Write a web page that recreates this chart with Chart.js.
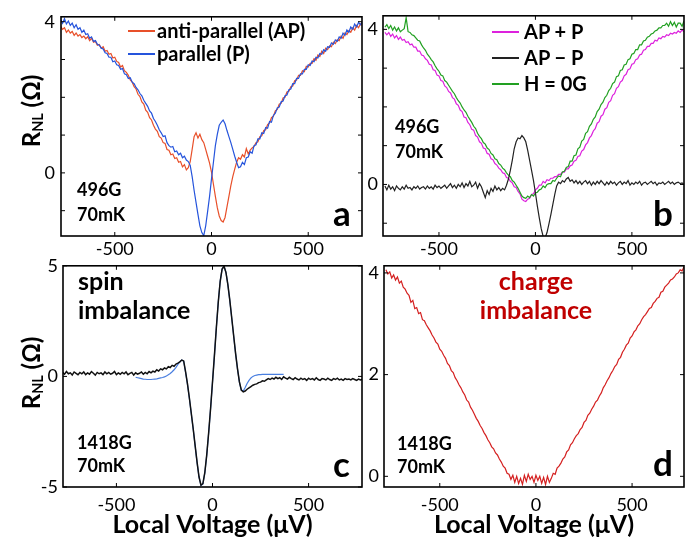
<!DOCTYPE html>
<html>
<head>
<meta charset="utf-8">
<script src="https://cdn.jsdelivr.net/npm/chart.js@4"></script>
<style>
  html, body { margin: 0; padding: 0; background: #fff; }
  #fig { position: relative; width: 692px; height: 547px; overflow: hidden; font-family: Lato, sans-serif; color: #000; }
  .box { position: absolute; }
  .txt { position: absolute; font-weight: bold; white-space: nowrap; line-height: 1; }
  .note { font-size: 18px; }
  .leg { font-size: 20px; }
  .letter { font-size: 35px; }
  .big { font-size: 25px; }
  .swatch { position: absolute; height: 1.5px; }
  .ytitle { position: absolute; font-weight: bold; font-size: 24px; line-height: 1; white-space: nowrap;
            transform: translate(-50%, -50%) rotate(-90deg); }
  .ytitle sub { font-size: 0.6em; vertical-align: baseline; position: relative; top: 0.22em; }
</style>
</head>
<body>
<div id="fig">
  <div class="box" style="left:0;top:0;width:370px;height:262px"><canvas id="chart-a"></canvas></div>
  <div class="box" style="left:360px;top:0;width:332px;height:262px"><canvas id="chart-b"></canvas></div>
  <div class="box" style="left:0;top:250px;width:370px;height:297px"><canvas id="chart-c"></canvas></div>
  <div class="box" style="left:360px;top:250px;width:332px;height:297px"><canvas id="chart-d"></canvas></div>

  <div class="ytitle" style="left:31px;top:111px">R<sub>NL</sub> (Ω)</div>
  <div class="ytitle" style="left:31px;top:373px">R<sub>NL</sub> (Ω)</div>

  <!-- panel a -->
  <div class="swatch" style="left:128px;top:30px;width:27px;background:#e8502a"></div>
  <div class="txt leg" style="left:157px;top:20px">anti-parallel (AP)</div>
  <div class="swatch" style="left:128px;top:53px;width:27px;background:#2554dc"></div>
  <div class="txt leg" style="left:157px;top:43px">parallel (P)</div>
  <div class="txt note" style="left:77px;top:180px">496G</div>
  <div class="txt note" style="left:77px;top:205px">70mK</div>
  <div class="txt letter" style="left:333px;top:195px">a</div>

  <!-- panel b -->
  <div class="swatch" style="left:492px;top:31px;width:27px;background:#dd22dd"></div>
  <div class="txt leg" style="left:524px;top:21px">AP + P</div>
  <div class="swatch" style="left:492px;top:57px;width:27px;background:#222"></div>
  <div class="txt leg" style="left:524px;top:47px">AP − P</div>
  <div class="swatch" style="left:492px;top:83px;width:27px;background:#22a022"></div>
  <div class="txt leg" style="left:524px;top:73px">H = 0G</div>
  <div class="txt note" style="left:395px;top:117px">496G</div>
  <div class="txt note" style="left:395px;top:142px">70mK</div>
  <div class="txt letter" style="left:653px;top:195px">b</div>

  <!-- panel c -->
  <div class="txt big" style="left:78px;top:268px">spin</div>
  <div class="txt big" style="left:78px;top:297px">imbalance</div>
  <div class="txt note" style="left:77px;top:433px">1418G</div>
  <div class="txt note" style="left:77px;top:456px">70mK</div>
  <div class="txt letter" style="left:333px;top:446px">c</div>

  <!-- panel d -->
  <div class="txt big" style="left:436px;top:268px;width:200px;text-align:center;color:#c00000">charge</div>
  <div class="txt big" style="left:436px;top:297px;width:200px;text-align:center;color:#c00000">imbalance</div>
  <div class="txt note" style="left:397px;top:434px">1418G</div>
  <div class="txt note" style="left:397px;top:457px">70mK</div>
  <div class="txt letter" style="left:653px;top:445px">d</div>
</div>

<script>
// local voltage grid (µV), shared by all the measured traces
const voltage = [
  -780,-770,-760,-750,-740,-730,-720,-710,-700,-690,
  -680,-670,-660,-650,-640,-630,-620,-610,-600,-590,
  -580,-570,-560,-550,-540,-530,-520,-510,-500,-490,
  -480,-470,-460,-450,-440,-430,-420,-410,-400,-390,
  -380,-370,-360,-350,-340,-330,-320,-310,-300,-290,
  -280,-270,-260,-250,-240,-230,-220,-210,-200,-190,
  -180,-170,-160,-150,-140,-130,-120,-110,-100,-90,
  -80,-70,-60,-50,-40,-30,-20,-10,0,10,
  20,30,40,50,60,70,80,90,100,110,
  120,130,140,150,160,170,180,190,200,210,
  220,230,240,250,260,270,280,290,300,310,
  320,330,340,350,360,370,380,390,400,410,
  420,430,440,450,460,470,480,490,500,510,
  520,530,540,550,560,570,580,590,600,610,
  620,630,640,650,660,670,680,690,700,710,
  720,730,740,750,760,770,780
];

// tick positions
const voltageTicks = [-500, 0, 500];
const ticksAB = [-1, 0, 1, 2, 3, 4];
const labelsAB = [0, 4];
const ticksC = [-5, 0, 5];
const ticksD = [0, 2, 4];

// panel a: 496G, 70mK
const antiParallel = [
  3.88, 3.80, 3.84, 3.72, 3.78, 3.70, 3.74, 3.64, 3.70, 3.62,
  3.66, 3.58, 3.62, 3.55, 3.60, 3.50, 3.56, 3.46, 3.48, 3.38,
  3.40, 3.30, 3.34, 3.22, 3.24, 3.14, 3.16, 3.04, 3.06, 2.95,
  2.92, 2.80, 2.84, 2.70, 2.66, 2.58, 2.46, 2.40, 2.28, 2.22,
  2.08, 2.02, 1.88, 1.82, 1.66, 1.60, 1.46, 1.40, 1.26, 1.16,
  1.10, 0.96, 0.92, 0.80, 0.78, 0.62, 0.60, 0.48, 0.50, 0.38,
  0.40, 0.28, 0.30, 0.16, 0.22, 0.08, 0.14, 0.30, 0.62, 0.96,
  1.06, 0.92, 1.02, 0.88, 0.80, 0.62, 0.44, 0.26, 0.02, -0.30,
  -0.62, -0.92, -1.14, -1.26, -1.30, -1.18, -0.90, -0.62, -0.34, -0.10,
  0.10, 0.28, 0.40, 0.36, 0.48, 0.42, 0.64, 0.50, 0.60, 0.66,
  0.70, 0.80, 0.82, 0.96, 0.98, 1.12, 1.14, 1.28, 1.32, 1.46,
  1.50, 1.64, 1.68, 1.82, 1.84, 1.98, 2.00, 2.14, 2.16, 2.28,
  2.30, 2.44, 2.46, 2.58, 2.58, 2.70, 2.68, 2.82, 2.80, 2.90,
  2.90, 3.02, 2.98, 3.12, 3.08, 3.22, 3.16, 3.30, 3.26, 3.36,
  3.34, 3.46, 3.42, 3.52, 3.50, 3.62, 3.56, 3.70, 3.66, 3.76,
  3.72, 3.84, 3.78, 3.90, 3.84, 3.94, 3.90
];
const parallel = [
  4.06, 3.96, 4.08, 3.94, 4.02, 3.90, 3.96, 3.84, 3.92, 3.80,
  3.84, 3.72, 3.78, 3.66, 3.68, 3.56, 3.60, 3.48, 3.50, 3.40,
  3.38, 3.30, 3.28, 3.18, 3.16, 3.06, 3.06, 2.94, 2.96, 2.86,
  2.84, 2.74, 2.76, 2.62, 2.60, 2.50, 2.52, 2.40, 2.36, 2.26,
  2.20, 2.10, 2.04, 1.92, 1.84, 1.76, 1.64, 1.58, 1.44, 1.36,
  1.26, 1.14, 1.06, 0.96, 0.98, 0.80, 0.72, 0.68, 0.70, 0.56,
  0.58, 0.48, 0.52, 0.40, 0.44, 0.34, 0.30, 0.20, -0.10, -0.46,
  -0.78, -1.10, -1.40, -1.58, -1.66, -1.40, -1.02, -0.62, -0.16, 0.28,
  0.72, 1.02, 1.26, 1.34, 1.40, 1.30, 1.12, 0.96, 0.80, 0.62,
  0.44, 0.28, 0.14, 0.16, 0.28, 0.22, 0.40, 0.42, 0.56, 0.52,
  0.72, 0.74, 0.90, 0.90, 1.06, 1.04, 1.20, 1.18, 1.36, 1.34,
  1.52, 1.58, 1.72, 1.74, 1.88, 1.90, 2.04, 2.06, 2.20, 2.22,
  2.36, 2.36, 2.50, 2.50, 2.62, 2.62, 2.74, 2.74, 2.86, 2.84,
  2.96, 2.94, 3.06, 3.04, 3.16, 3.14, 3.26, 3.22, 3.34, 3.32,
  3.44, 3.40, 3.52, 3.48, 3.60, 3.56, 3.70, 3.64, 3.78, 3.72,
  3.86, 3.80, 3.94, 3.86, 3.98, 3.92, 4.00
];

// panel b: sum, difference and zero-field trace
const apPlusP = [
  3.92, 3.86, 3.92, 3.82, 3.88, 3.78, 3.84, 3.74, 3.80, 3.72,
  3.74, 3.66, 3.68, 3.60, 3.62, 3.54, 3.54, 3.44, 3.44, 3.34,
  3.32, 3.24, 3.20, 3.10, 3.08, 2.96, 2.94, 2.82, 2.80, 2.68,
  2.66, 2.54, 2.50, 2.40, 2.36, 2.24, 2.20, 2.08, 2.04, 1.92,
  1.88, 1.74, 1.72, 1.60, 1.54, 1.42, 1.40, 1.26, 1.22, 1.10,
  1.06, 0.94, 0.92, 0.80, 0.78, 0.66, 0.64, 0.54, 0.50, 0.42,
  0.38, 0.30, 0.28, 0.18, 0.16, 0.08, 0.04, -0.06, -0.08, -0.18,
  -0.24, -0.38, -0.42, -0.44, -0.38, -0.36, -0.26, -0.24, -0.14, -0.10,
  -0.02, -0.02, 0.08, 0.04, 0.12, 0.10, 0.16, 0.16, 0.20, 0.20,
  0.26, 0.26, 0.32, 0.32, 0.40, 0.40, 0.48, 0.50, 0.60, 0.62,
  0.72, 0.74, 0.86, 0.90, 1.02, 1.08, 1.20, 1.26, 1.38, 1.44,
  1.58, 1.62, 1.76, 1.80, 1.94, 1.98, 2.12, 2.16, 2.30, 2.34,
  2.48, 2.52, 2.64, 2.68, 2.80, 2.84, 2.96, 2.98, 3.10, 3.12,
  3.22, 3.24, 3.34, 3.36, 3.46, 3.48, 3.56, 3.56, 3.64, 3.64,
  3.72, 3.70, 3.78, 3.76, 3.82, 3.80, 3.86, 3.84, 3.90, 3.88,
  3.92, 3.90, 3.96, 3.92, 3.98, 3.94, 3.98
];
const apMinusP = [
  -0.04, -0.14, -0.02, -0.12, -0.06, -0.16, -0.04, -0.10, -0.14, -0.06,
  -0.12, -0.02, -0.10, -0.08, -0.14, -0.06, -0.10, -0.04, -0.12, -0.08,
  -0.06, -0.12, -0.04, -0.10, -0.06, -0.12, -0.02, -0.08, -0.04, -0.10,
  -0.06, -0.02, -0.10, -0.04, 0.02, -0.08, -0.02, -0.10, 0.00, -0.06,
  0.04, -0.08, 0.02, -0.04, 0.08, -0.06, -0.02, 0.06, -0.10, 0.02,
  -0.06, -0.20, -0.34, -0.16, -0.26, -0.10, -0.18, -0.04, -0.14, -0.08,
  -0.16, -0.10, -0.14, -0.02, 0.14, 0.36, 0.62, 0.92, 1.10, 1.20,
  1.18, 1.26, 1.20, 1.10, 0.88, 0.62, 0.36, 0.10, -0.22, -0.56,
  -0.86, -1.14, -1.34, -1.38, -1.24, -1.02, -0.78, -0.52, -0.26, -0.04,
  0.06, 0.02, 0.10, 0.06, 0.14, 0.18, 0.08, 0.12, 0.04, 0.10,
  0.02, 0.08, 0.00, 0.06, 0.10, 0.02, 0.08, -0.02, 0.06, 0.00,
  0.08, 0.02, 0.10, 0.04, -0.02, 0.06, 0.00, 0.08, 0.02, 0.06,
  -0.02, 0.04, 0.08, 0.00, 0.06, 0.02, 0.10, -0.02, 0.04, 0.00,
  0.06, 0.02, 0.08, -0.02, 0.04, 0.06, 0.00, 0.04, 0.08, 0.02,
  0.06, -0.02, 0.04, 0.02, 0.06, 0.00, 0.04, 0.08, 0.02, 0.06,
  0.00, 0.04, 0.06, 0.02, 0.04, 0.00, 0.04
];
const zeroField = [
  4.06, 4.12, 4.02, 4.10, 3.98, 4.06, 3.96, 4.04, 3.94, 3.98,
  4.02, 4.30, 3.94, 3.92, 3.86, 3.84, 3.78, 3.72, 3.70, 3.60,
  3.52, 3.46, 3.36, 3.30, 3.22, 3.16, 3.06, 2.98, 2.92, 2.82,
  2.80, 2.68, 2.64, 2.56, 2.48, 2.40, 2.34, 2.24, 2.16, 2.10,
  2.00, 1.92, 1.86, 1.76, 1.68, 1.60, 1.50, 1.44, 1.32, 1.24,
  1.18, 1.08, 1.04, 0.94, 0.90, 0.80, 0.76, 0.66, 0.64, 0.54,
  0.50, 0.42, 0.38, 0.30, 0.24, 0.20, 0.10, 0.06, -0.02, -0.10,
  -0.20, -0.30, -0.34, -0.36, -0.30, -0.34, -0.26, -0.30, -0.22, -0.20,
  -0.14, -0.12, -0.04, -0.08, 0.00, 0.02, 0.02, 0.10, 0.08, 0.16,
  0.22, 0.20, 0.32, 0.34, 0.44, 0.46, 0.60, 0.60, 0.74, 0.76,
  0.92, 0.96, 1.12, 1.16, 1.32, 1.36, 1.50, 1.56, 1.68, 1.74,
  1.88, 1.94, 2.06, 2.12, 2.24, 2.30, 2.42, 2.48, 2.60, 2.64,
  2.78, 2.80, 2.94, 2.96, 3.08, 3.10, 3.22, 3.24, 3.36, 3.38,
  3.48, 3.48, 3.60, 3.60, 3.70, 3.72, 3.80, 3.82, 3.88, 3.90,
  3.96, 3.98, 4.04, 4.04, 4.10, 4.10, 4.16, 4.08, 4.20, 4.10,
  4.18, 4.06, 4.16, 4.16, 4.08, 4.22, 4.12
];

// panel c: spin imbalance, 1418G, with fit
const spinSignal = [
  0.18, 0.10, 0.22, 0.12, 0.16, 0.06, 0.20, 0.14, 0.08, 0.18,
  0.12, 0.20, 0.08, 0.16, 0.10, 0.22, 0.14, 0.06, 0.18, 0.12,
  0.16, 0.08, 0.20, 0.12, 0.18, 0.10, 0.14, 0.22, 0.08, 0.16,
  0.10, 0.18, 0.12, 0.20, 0.08, 0.14, 0.18, 0.06, 0.16, 0.10,
  0.14, 0.20, 0.10, 0.18, 0.12, 0.22, 0.16, 0.24, 0.20, 0.30,
  0.24, 0.34, 0.30, 0.38, 0.34, 0.44, 0.40, 0.50, 0.46, 0.56,
  0.60, 0.66, 0.74, 0.70, 0.20, -0.35, -1.00, -1.70, -2.40, -3.15,
  -3.90, -4.55, -4.92, -4.85, -4.35, -3.55, -2.55, -1.45, -0.25, 0.95,
  2.20, 3.35, 4.30, 4.85, 4.98, 4.70, 4.15, 3.45, 2.65, 1.85,
  1.05, 0.35, -0.25, -0.62, -0.70, -0.66, -0.58, -0.52, -0.46, -0.40,
  -0.36, -0.34, -0.28, -0.26, -0.20, -0.22, -0.16, -0.10, -0.14, -0.08,
  -0.12, -0.04, -0.10, -0.06, -0.14, -0.02, -0.08, -0.12, -0.04, -0.10,
  -0.14, -0.06, -0.12, -0.16, -0.08, -0.14, -0.10, -0.18, -0.08, -0.14,
  -0.10, -0.16, -0.06, -0.14, -0.18, -0.10, -0.12, -0.16, -0.08, -0.14,
  -0.18, -0.10, -0.14, -0.08, -0.16, -0.12, -0.18, -0.10, -0.14, -0.12,
  -0.16, -0.10, -0.14, -0.18, -0.12, -0.16, -0.14
];
// fit only covers -400 .. 370 µV
const fitVoltage = voltage.filter(v => v >= -400 && v <= 370);
const spinFit = [
  -0.04, -0.06, -0.08, -0.10, -0.12, -0.13, -0.14, -0.14, -0.14, -0.13,
  -0.12, -0.11, -0.09, -0.07, -0.05, -0.02, 0.02, 0.07, 0.13, 0.21,
  0.30, 0.41, 0.54, 0.66, 0.74, 0.68, 0.18, -0.38, -1.02, -1.72,
  -2.42, -3.17, -3.92, -4.56, -4.93, -4.86, -4.36, -3.56, -2.56, -1.46,
  -0.26, 0.94, 2.20, 3.36, 4.31, 4.86, 4.98, 4.70, 4.14, 3.44,
  2.64, 1.84, 1.04, 0.34, -0.26, -0.62, -0.66, -0.50, -0.32, -0.18,
  -0.07, 0.00, 0.04, 0.06, 0.08, 0.08, 0.09, 0.09, 0.09, 0.09,
  0.09, 0.09, 0.09, 0.09, 0.09, 0.09, 0.09, 0.09
];

// panel d: charge imbalance
const chargeSignal = [
  4.06, 3.98, 4.02, 3.90, 3.96, 3.86, 3.92, 3.80, 3.84, 3.72,
  3.68, 3.60, 3.56, 3.42, 3.46, 3.30, 3.32, 3.20, 3.22, 3.08,
  3.06, 2.98, 2.92, 2.86, 2.78, 2.72, 2.64, 2.60, 2.50, 2.46,
  2.38, 2.32, 2.22, 2.18, 2.08, 2.04, 1.94, 1.88, 1.80, 1.74,
  1.66, 1.60, 1.50, 1.46, 1.36, 1.30, 1.22, 1.14, 1.08, 1.00,
  0.94, 0.86, 0.80, 0.72, 0.66, 0.58, 0.54, 0.46, 0.42, 0.34,
  0.28, 0.20, 0.16, 0.06, 0.04, -0.06, 0.02, -0.12, 0.00, -0.14,
  -0.04, -0.16, 0.02, -0.10, 0.04, -0.06, 0.00, -0.12, 0.02, -0.08,
  0.00, -0.14, -0.02, -0.16, 0.00, -0.12, -0.04, 0.06, 0.04, 0.16,
  0.20, 0.26, 0.34, 0.38, 0.48, 0.52, 0.62, 0.66, 0.74, 0.80,
  0.84, 0.92, 0.96, 1.06, 1.10, 1.20, 1.24, 1.32, 1.38, 1.46,
  1.50, 1.58, 1.64, 1.74, 1.80, 1.88, 1.94, 2.02, 2.08, 2.16,
  2.20, 2.30, 2.34, 2.44, 2.50, 2.58, 2.62, 2.72, 2.76, 2.84,
  2.88, 2.96, 3.00, 3.08, 3.14, 3.18, 3.24, 3.30, 3.32, 3.40,
  3.44, 3.50, 3.52, 3.62, 3.64, 3.72, 3.76, 3.80, 3.86, 3.88,
  3.92, 3.98, 4.00, 4.06, 4.04, 4.12, 4.10
];

Chart.defaults.font.family = 'Lato, sans-serif';
Chart.defaults.color = '#000';

const pts = (xs, ys) => xs.map((v, i) => ({ x: v, y: ys[i] }));

// box around the plot area with inward tick marks on all four sides
const framePlugin = {
  id: 'frame',
  afterDatasetsDraw(chart) {
    const { ctx, chartArea: a, scales } = chart;
    ctx.save();
    ctx.strokeStyle = '#000';
    ctx.lineWidth = 1;
    ctx.beginPath();
    scales.x.ticks.forEach(t => {
      const px = scales.x.getPixelForValue(t.value);
      ctx.moveTo(px, a.top); ctx.lineTo(px, a.top + 4);
      ctx.moveTo(px, a.bottom); ctx.lineTo(px, a.bottom - 4);
    });
    scales.y.ticks.forEach(t => {
      const py = scales.y.getPixelForValue(t.value);
      ctx.moveTo(a.left, py); ctx.lineTo(a.left + 4, py);
      ctx.moveTo(a.right, py); ctx.lineTo(a.right - 4, py);
    });
    ctx.stroke();
    ctx.lineWidth = 1.6;
    ctx.strokeRect(a.left, a.top, a.width, a.height);
    ctx.restore();
  }
};

function makePanel(id, c) {
  return new Chart(document.getElementById(id), {
    type: 'line',
    data: { datasets: c.datasets },
    options: {
      responsive: true,
      maintainAspectRatio: false,
      animation: false,
      layout: { padding: { top: c.padTop, right: 8, left: 0, bottom: 0 } },
      plugins: { legend: { display: false }, tooltip: { enabled: false } },
      elements: { point: { radius: 0 }, line: { borderWidth: 1.2, tension: 0 } },
      scales: {
        x: {
          type: 'linear', min: c.xMin, max: c.xMax,
          grid: { display: false, drawTicks: false },
          border: { display: false },
          ticks: { autoSkip: false, maxRotation: 0, padding: c.xPad, font: { size: 18 } },
          afterBuildTicks: s => { s.ticks = voltageTicks.map(v => ({ value: v })); },
          title: c.xTitle
            ? { display: true, text: c.xTitle, font: { size: 25, weight: 'bold' }, padding: { top: 0, bottom: 7 } }
            : { display: false },
          afterFit: s => { s.height = c.xHeight; }
        },
        y: {
          min: c.yMin, max: c.yMax,
          grid: { display: false, drawTicks: false },
          border: { display: false },
          ticks: { autoSkip: false, padding: c.yPad, font: { size: 18 },
                   callback: v => c.yLabels.includes(v) ? String(v) : '' },
          afterBuildTicks: s => { s.ticks = c.yTicks.map(v => ({ value: v })); },
          afterFit: s => { s.width = c.yWidth; }
        }
      }
    },
    plugins: [framePlugin]
  });
}

makePanel('chart-a', {
  padTop: 10, xHeight: 26, xPad: 2, yWidth: 61, yPad: 6,
  xMin: -778, xMax: 778, yMin: -1.67, yMax: 4.13, yTicks: ticksAB, yLabels: labelsAB,
  datasets: [
    { data: pts(voltage, parallel), borderColor: '#2554dc', order: 0 },
    { data: pts(voltage, antiParallel), borderColor: '#e8502a', order: 1 }
  ]
});

makePanel('chart-b', {
  padTop: 10, xHeight: 26, xPad: 2, yWidth: 23, yPad: 5,
  xMin: -790, xMax: 770, yMin: -1.33, yMax: 4.35, yTicks: ticksAB, yLabels: labelsAB,
  datasets: [
    { data: pts(voltage, apMinusP), borderColor: '#222222', order: 0 },
    { data: pts(voltage, zeroField), borderColor: '#22a022', order: 1 },
    { data: pts(voltage, apPlusP), borderColor: '#dd22dd', order: 2 }
  ]
});

makePanel('chart-c', {
  padTop: 13, xHeight: 60, xPad: 7, yWidth: 63, yPad: 5, xTitle: 'Local Voltage (μV)',
  xMin: -778, xMax: 778, yMin: -5, yMax: 5, yTicks: ticksC, yLabels: ticksC,
  datasets: [
    { data: pts(voltage, spinSignal), borderColor: '#111111', borderWidth: 1.5, order: 0 },
    { data: pts(fitVoltage, spinFit), borderColor: '#4a7fe0', borderWidth: 1.2, order: 1 }
  ]
});

makePanel('chart-d', {
  padTop: 13, xHeight: 60, xPad: 7, yWidth: 24, yPad: 5, xTitle: 'Local Voltage (μV)',
  xMin: -790, xMax: 770, yMin: -0.21, yMax: 4.14, yTicks: ticksD, yLabels: ticksD,
  datasets: [
    { data: pts(voltage, chargeSignal), borderColor: '#d42020', order: 0 }
  ]
});
</script>
</body>
</html>
